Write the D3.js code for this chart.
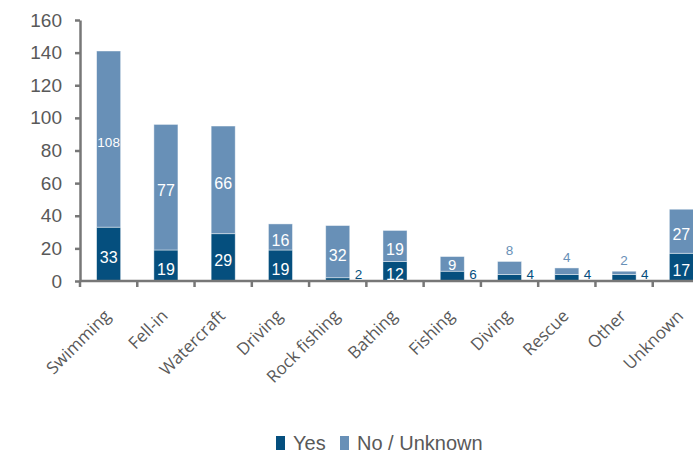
<!DOCTYPE html>
<html>
<head>
<meta charset="utf-8">
<script src="https://cdn.jsdelivr.net/npm/d3@7/dist/d3.min.js"></script>
<style>
  html, body { margin: 0; padding: 0; background: #ffffff; }
  svg { display: block; }
</style>
</head>
<body>
<svg id="chart" width="693" height="455"></svg>
<script>
// Activities and the two stacked series
const categories = ["Swimming", "Fell-in", "Watercraft", "Driving", "Rock fishing", "Bathing",
                    "Fishing", "Diving", "Rescue", "Other", "Unknown"];
const yesValues = [33, 19, 29, 19, 2, 12, 6, 4, 4, 4, 17];
const noValues  = [108, 77, 66, 16, 32, 19, 9, 8, 4, 2, 27];
const seriesNames = ["Yes", "No / Unknown"];
const yTicks = [0, 20, 40, 60, 80, 100, 120, 140, 160];

const colors = { yes: "#054f7e", no: "#6890b7" };
const axisColor = "#777777";
const textColor = "#595959";

const svg = d3.select("#chart");
const W = 693;

const x = d3.scaleBand().domain(categories).range([80, 710]).padding(0);
const barW = x.bandwidth() * 0.42;
const y = d3.scaleLinear().domain([0, 160]).range([281, 20]);

const rows = categories.map((c, i) => ({ cat: c, yes: yesValues[i], no: noValues[i] }));
const stack = d3.stack().keys(["yes", "no"])(rows);

// bars
const g = svg.append("g");
stack.forEach(layer => {
  g.selectAll(null)
    .data(layer)
    .join("rect")
    .attr("x", d => x(d.data.cat) + (x.bandwidth() - barW) / 2)
    .attr("width", barW)
    .attr("y", d => y(d[1]))
    .attr("height", d => y(d[0]) - y(d[1]))
    .attr("fill", colors[layer.key])
    .attr("stroke", "rgba(255,255,255,0.55)")
    .attr("stroke-width", 0.8);
});

// y axis
const yAxis = svg.append("g")
  .attr("transform", "translate(80,0)")
  .call(d3.axisLeft(y).tickValues(yTicks).tickSize(5).tickSizeOuter(0).tickPadding(13));
yAxis.select(".domain").attr("stroke", axisColor).attr("stroke-width", 2.5);
yAxis.selectAll(".tick line").attr("stroke", axisColor).attr("stroke-width", 2.5);
yAxis.selectAll(".tick text")
  .attr("fill", textColor)
  .style("font-family", "'Liberation Sans', Arial, sans-serif")
  .style("font-size", "19px");

// x axis line and category boundary ticks
svg.append("line")
  .attr("x1", 80).attr("x2", W + 5)
  .attr("y1", y(0)).attr("y2", y(0))
  .attr("stroke", axisColor).attr("stroke-width", 2.5);
svg.selectAll(".xtick")
  .data(categories)
  .join("line")
  .attr("class", "xtick")
  .attr("x1", d => x(d)).attr("x2", d => x(d))
  .attr("y1", y(0)).attr("y2", y(0) + 6)
  .attr("stroke", axisColor).attr("stroke-width", 2.5);

// rotated category labels
svg.selectAll(".xlabel")
  .data(categories)
  .join("text")
  .attr("class", "xlabel")
  .attr("text-anchor", "end")
  .attr("transform", d => `translate(${x(d) + x.bandwidth() / 2 + 3},317) rotate(-45)`)
  .attr("fill", textColor)
  .style("font-family", "'Open Sans', sans-serif")
  .style("font-size", "17px")
  .text(d => d);

// value labels
const labelFont = "'Liberation Sans', Arial, sans-serif";
const cx = c => x(c) + x.bandwidth() / 2;
rows.forEach(r => {
  const yesH = y(0) - y(r.yes);
  const noH = y(r.yes) - y(r.yes + r.no);
  // Yes segment
  if (yesH >= 16) {
    svg.append("text")
      .attr("x", cx(r.cat)).attr("y", (y(0) + y(r.yes)) / 2 + 9)
      .attr("text-anchor", "middle").attr("fill", "#ffffff")
      .style("font-family", labelFont).style("font-size", "16px")
      .text(r.yes);
  } else {
    svg.append("text")
      .attr("x", cx(r.cat) + barW / 2 + 5).attr("y", y(0) - 2)
      .attr("text-anchor", "start").attr("fill", colors.yes)
      .style("font-family", labelFont).style("font-size", "13.5px")
      .text(r.yes);
  }
  // No / Unknown segment
  if (noH >= 14) {
    const big = r.no >= 100;
    const small = noH < 16;
    svg.append("text")
      .attr("x", cx(r.cat)).attr("y", (y(r.yes) + y(r.yes + r.no)) / 2 + (big ? 8 : small ? 6 : 9))
      .attr("text-anchor", "middle").attr("fill", "#ffffff")
      .style("font-family", labelFont).style("font-size", big ? "13.5px" : small ? "15px" : "16px")
      .text(r.no);
  } else {
    svg.append("text")
      .attr("x", cx(r.cat)).attr("y", y(r.yes + r.no) - 6)
      .attr("text-anchor", "middle").attr("fill", colors.no)
      .style("font-family", labelFont).style("font-size", "13.5px")
      .text(r.no);
  }
});

// legend
const legendX = [276, 340];
const legend = svg.append("g");
seriesNames.forEach((name, i) => {
  legend.append("rect")
    .attr("x", legendX[i]).attr("y", 436)
    .attr("width", 9).attr("height", 14)
    .attr("fill", i === 0 ? colors.yes : colors.no);
  legend.append("text")
    .attr("x", legendX[i] + 17).attr("y", 450)
    .attr("fill", textColor)
    .style("font-family", labelFont).style("font-size", "20px")
    .text(name);
});
</script>
</body>
</html>
